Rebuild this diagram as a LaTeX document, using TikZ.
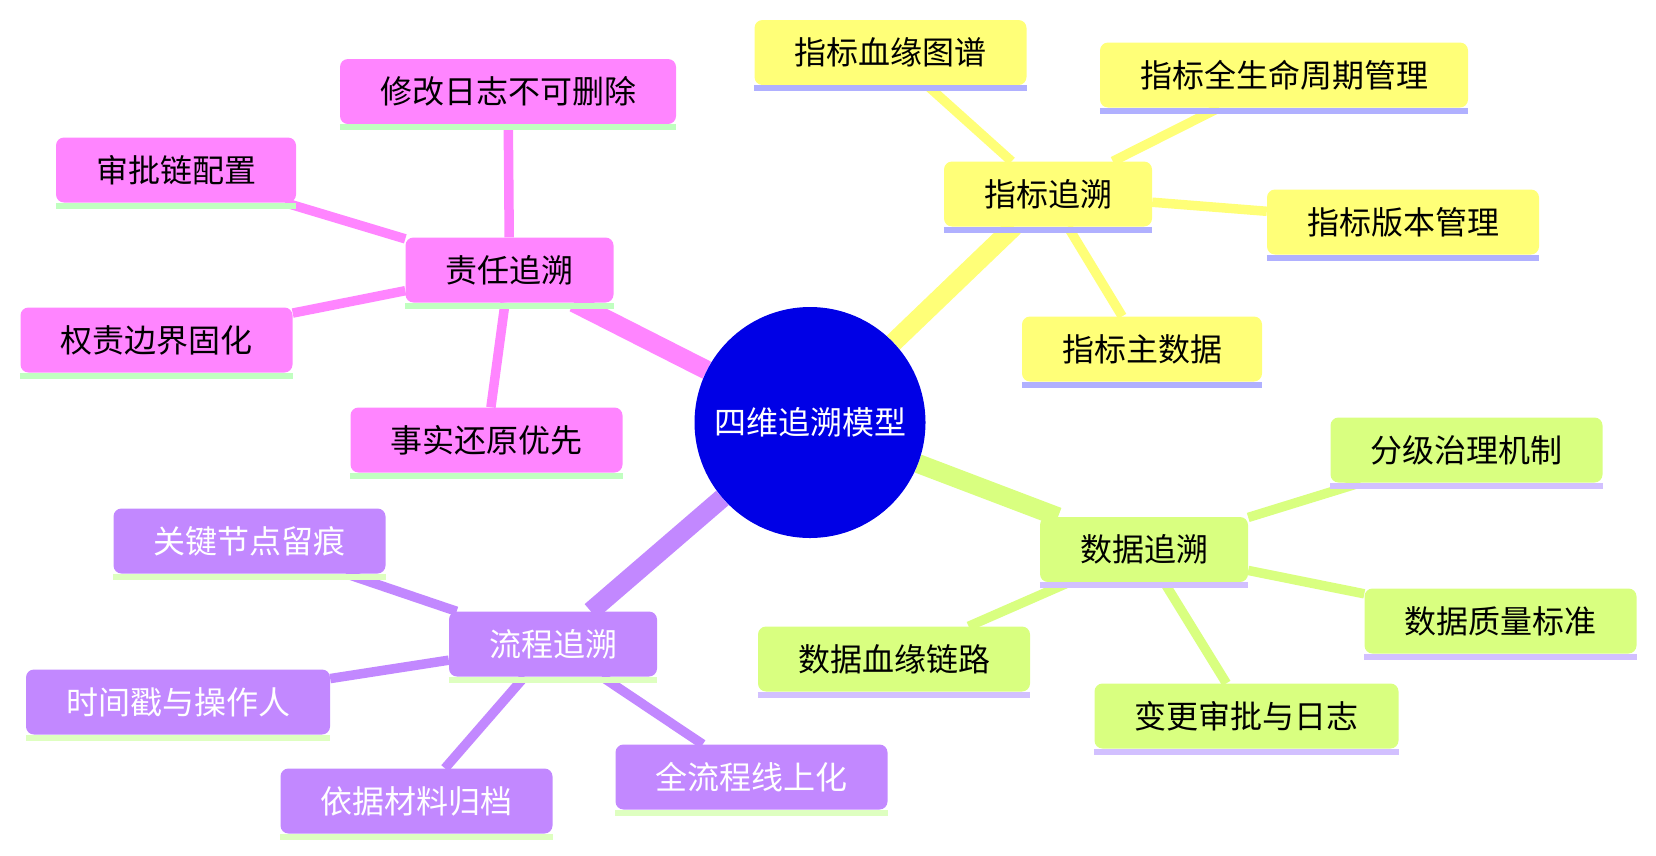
\documentclass[tikz,border=0pt]{standalone}
\usepackage{fontspec}
\setmainfont{Noto Sans CJK SC}
\usetikzlibrary{backgrounds}
\definecolor{pinkbox}{RGB}{255,133,255}
\definecolor{pinkline}{RGB}{192,255,192}
\definecolor{yellowbox}{RGB}{255,255,120}
\definecolor{yellowline}{RGB}{176,176,255}
\definecolor{greenbox}{RGB}{217,255,128}
\definecolor{greenline}{RGB}{210,192,255}
\definecolor{purplebox}{RGB}{194,136,255}
\definecolor{purpleline}{RGB}{222,255,192}
\definecolor{rootblue}{RGB}{0,0,230}
\begin{document}
\begin{tikzpicture}[x=1pt, y=-1pt,
		box/.style 2 args={fill=#1, rounded corners=8pt, minimum height=65pt,
			inner xsep=40pt, inner ysep=0pt, font=\fontsize{32}{38}\selectfont,
			append after command={([yshift=-3pt]\tikzlastnode.south west)
				edge[draw=#2, line width=6pt, sharp corners] ([yshift=-3pt]\tikzlastnode.south east)}},
		trunk/.style={line width=19pt},
		twig/.style={line width=9.5pt}]
		\useasboundingbox (0,0) rectangle (1656,855);
		% root
		\node[circle, fill=rootblue, minimum size=231pt, inner sep=0pt, text=white,
			font=\fontsize{32}{38}\selectfont] (root) at (810,422.5) {四维追溯模型};
		% responsibility
		\node[box={pinkbox}{pinkline}] (duty) at (509.5,270) {责任追溯};
		\node[box={pinkbox}{pinkline}] (log) at (508,91.5) {修改日志不可删除};
		\node[box={pinkbox}{pinkline}] (chain) at (176,170) {审批链配置};
		\node[box={pinkbox}{pinkline}] (bound) at (156.5,340) {权责边界固化};
		\node[box={pinkbox}{pinkline}] (fact) at (486.5,440) {事实还原优先};
		% indicators
		\node[box={yellowbox}{yellowline}] (ind) at (1048,194) {指标追溯};
		\node[box={yellowbox}{yellowline}] (lineage) at (890.5,52.5) {指标血缘图谱};
		\node[box={yellowbox}{yellowline}] (life) at (1284,75) {指标全生命周期管理};
		\node[box={yellowbox}{yellowline}] (ver) at (1403,222) {指标版本管理};
		\node[box={yellowbox}{yellowline}] (master) at (1142,349) {指标主数据};
		% data
		\node[box={greenbox}{greenline}] (data) at (1144,549.5) {数据追溯};
		\node[box={greenbox}{greenline}] (grade) at (1466.5,450) {分级治理机制};
		\node[box={greenbox}{greenline}] (quality) at (1500.5,621) {数据质量标准};
		\node[box={greenbox}{greenline}] (dlink) at (894,659) {数据血缘链路};
		\node[box={greenbox}{greenline}] (change) at (1246.5,716) {变更审批与日志};
		% process
		\node[box={purplebox}{purpleline}, text=white] (flow) at (553,644) {流程追溯};
		\node[box={purplebox}{purpleline}, text=white] (trace) at (249.5,541) {关键节点留痕};
		\node[box={purplebox}{purpleline}, text=white] (stamp) at (178,702) {时间戳与操作人};
		\node[box={purplebox}{purpleline}, text=white] (file) at (416.5,801) {依据材料归档};
		\node[box={purplebox}{purpleline}, text=white] (online) at (751.5,777) {全流程线上化};
		\begin{pgfonlayer}{background}
			\draw[trunk, pinkbox] (root) -- (duty);
			\draw[trunk, yellowbox] (root) -- (ind);
			\draw[trunk, greenbox] (root) -- (data);
			\draw[trunk, purplebox] (root) -- (flow);
			\foreach \leaf in {log, chain, bound, fact}
			{\draw[twig, pinkbox] (duty) -- (\leaf);}
			\foreach \leaf in {lineage, life, ver, master}
			{\draw[twig, yellowbox] (ind) -- (\leaf);}
			\foreach \leaf in {grade, quality, dlink, change}
			{\draw[twig, greenbox] (data) -- (\leaf);}
			\foreach \leaf in {trace, stamp, file, online}
			{\draw[twig, purplebox] (flow) -- (\leaf);}
		\end{pgfonlayer}
	\end{tikzpicture}
\end{document}
